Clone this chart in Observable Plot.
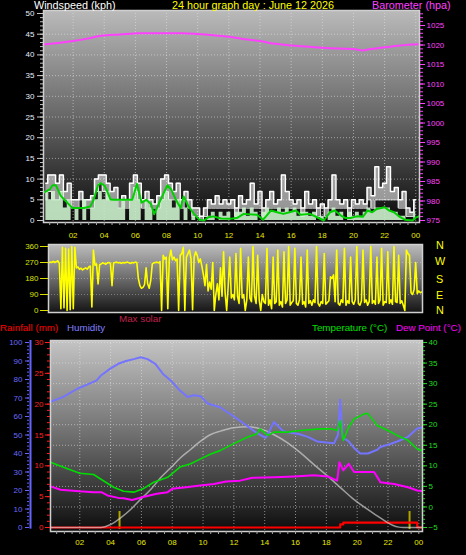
<!DOCTYPE html>
<html><head><meta charset="utf-8">
<script src="https://cdn.jsdelivr.net/npm/d3@7"></script>
<script src="https://cdn.jsdelivr.net/npm/@observablehq/plot@0.6"></script>
<style>
html,body{margin:0;padding:0;background:#000;}
#wrap{position:relative;width:466px;height:555px;overflow:hidden;background:#000;font-family:"Liberation Sans",Arial,sans-serif;}
.lbl{position:absolute;white-space:nowrap;font-size:10.8px;line-height:12px;}
.leg{font-size:9.8px;line-height:11px;}
.panel{position:absolute;left:0;}
</style></head><body>
<div id="wrap">
  <div id="p1" class="panel" style="top:0px"></div>
  <div id="p2" class="panel" style="top:240px"></div>
  <div id="p3" class="panel" style="top:330px"></div>
  <div class="lbl" style="left:34px;top:-1px;color:#ffffff">Windspeed (kph)</div>
  <div class="lbl" style="left:172px;top:-1px;color:#ffff00">24 hour graph day : June 12 2026</div>
  <div class="lbl" style="left:372px;top:-1px;color:#ff40ff">Barometer (hpa)</div>
  <div class="lbl" style="left:436px;top:239px;color:#ffff00">N</div>
  <div class="lbl" style="left:435px;top:255px;color:#ffff00">W</div>
  <div class="lbl" style="left:436px;top:273px;color:#ffff00">S</div>
  <div class="lbl" style="left:436px;top:289px;color:#ffff00">E</div>
  <div class="lbl" style="left:436px;top:304px;color:#ffff00">N</div>
  <div class="lbl leg" style="left:119px;top:313px;color:#c0204c">Max solar</div>
  <div class="lbl leg" style="left:0px;top:322px;color:#ff0000">Rainfall (mm)</div>
  <div class="lbl leg" style="left:67px;top:322px;color:#8080ff">Humidity</div>
  <div class="lbl leg" style="left:312px;top:322px;color:#00e000">Temperature (°C)</div>
  <div class="lbl leg" style="left:396px;top:322px;color:#ff00ff">Dew Point (°C)</div>
</div>
<script>
// ---------- DATA ----------
const hours = [2,4,6,8,10,12,14,16,18,20,22,24];
const hourLabels = ["02","04","06","08","10","12","14","16","18","20","22","00"];

// Barometer (hPa)
const baroT = [0.1,1.2,2,3,3.8,5,6.3,7,8,9,10,11,12,13,14,15,16,17,18,19,20,20.6,21,22,23,24.2];
const baroP = [1020.1,1020.6,1021.0,1021.7,1022.4,1022.7,1023.0,1023.0,1023.0,1023.0,1022.8,1022.5,1022.1,1021.5,1021.0,1020.3,1019.9,1019.6,1019.3,1019.1,1019.0,1018.6,1018.9,1019.4,1019.9,1020.2];
const baroTicks = [975,980,985,990,995,1000,1005,1010,1015,1020,1025];

// Wind (kph), sampled every 15 minutes from 00:15
const windStart = 0.25, windStep = 0.25;
const windGust = [9,11,11,9, 11,7,9,5, 5,7,5,5, 6,10,11,11, 9,7,8,5, 6,5,9,11,
  9,5,7,5, 4,6,10,11, 9,7,9,5, 7,5,3,3, 1,3,5,4, 6,4,5,4,
  5,3,6,4, 5,9,4,7, 3,5,7,4, 5,11,7,5, 4,5,3,7, 4,5,3,4,
  3,5,11,5, 4,5,3,5, 4,5,4,8, 6,13,8,9, 13,7,8,5, 7,3,2,5];
const windGustLow = [5,7,5,5, 7,5,5,3, 3,5,3,3, 3,7,9,7, 5,5,5,3, 3,3,5,7,
  5,3,5,3, 3,3,5,7, 5,5,5,3, 5,3,1,1, 0,1,3,3, 3,3,3,3,
  3,1,3,3, 3,3,3,3, 1,3,3,3, 3,3,3,3, 3,3,1,3, 3,3,1,3,
  1,3,3,3, 3,3,1,3, 3,3,3,5, 3,5,5,5, 5,5,5,3, 3,1,1,3];
const windSpeed = [7,5,7,5, 7,3,5,0, 3,0,5,0, 3,5,7,5, 7,5,5,3, 5,0,5,8,
  5,0,5,3, 0,3,5,7, 5,3,5,0, 3,0,1,0, 0,0,1,2, 0,2,1,2,
  0,2,2,3, 1,3,2,0, 2,3,2,2, 3,2,3,2, 3,1,2,2, 1,2,0,1,
  0,2,3,1, 2,0,2,1, 2,1,2,3, 2,3,3,3, 3,2,2,1, 1,0,0,2];
// Average wind speed
const avgT = [0.14,0.5,0.68,0.9,1.2,1.5,1.96,2.7,3.1,3.3,3.6,3.77,4.0,4.2,4.4,4.6,5.8,6.1,6.4,6.7,7.0,7.2,7.5,8.05,8.3,8.6,8.9,9.1,9.4,9.76,10.1,10.4,10.7,11.0,11.5,12.1,12.5,12.96,13.8,14.2,14.7,15.1,15.5,15.9,16.3,16.6,17.2,17.6,18.1,18.5,18.8,19.2,19.5,19.8,20.2,20.6,20.9,21.2,21.5,22.0,22.3,22.6,23.0,23.3,23.8,24.0,24.2];
const avgV = [6.8,7.5,8.5,8.5,6,4.8,3,3,3.4,4.8,8.5,9,8.5,7,5.1,5,5,8.8,4.3,5,4,1.5,4,8.5,7.5,5,3,5.8,3.5,1.6,0.2,0,0.8,1,0.5,0.4,0.6,1.6,1.4,0.2,2.4,2.0,1.6,2.0,2.4,1.4,1.6,0.9,0,2.0,2.4,1.2,0.6,0.6,1.0,0.9,2.4,2.0,2.8,3.2,2.4,2.0,0.8,0.2,0,0.7,1];
const windTicks = [0,5,10,15,20,25,30,35,40,45,50];

// Wind direction (degrees), every 6 minutes from 00:06
const dirStart = 0.1, dirStep = 0.1;
const windDir = [
 268,272,270,276,270,274,280,265,10,355,
 15,350,0,345,5,360,10,355,240,245,
 232,238,228,235,240,232,245,250,20,340,
 255,262,150,258,262,268,265,260,268,270,
 265,140,268,270,272,268,270,265,270,268,
 270,272,268,265,270,268,272,270,180,140,
 125,130,145,240,150,125,170,262,268,270,
 272,268,275,0,310,290,300,10,295,340,
 285,300,280,290,0,310,320,355,0,300,
 320,340,290,5,300,330,310,270,290,250,
 200,140,260,110,160,120,270,0,90,150,
 60,240,80,330,100,0,140,300,70,90,
 60,320,80,40,350,70,90,0,60,300,
 70,50,360,80,40,310,60,0,90,50,
 40,350,30,60,10,300,40,50,340,30,
 50,20,330,40,60,360,30,45,55,350,
 40,30,60,300,35,50,20,340,40,55,
 30,60,45,360,40,25,50,40,320,35,
 45,55,190,180,200,50,340,40,30,60,
 45,350,30,55,40,300,50,35,60,360,
 40,30,55,340,45,60,30,50,360,40,
 55,35,300,40,60,350,30,50,45,330,
 40,60,35,360,50,45,310,40,55,30,
 0,340,320,310,100,90,120,270,95,110,
 100,105];
const dirTicks = [0,90,180,270,360];

// Humidity (%)
const humT = [0.1,0.9,1.85,2.7,3.1,3.35,4.0,4.5,5.0,5.5,5.95,6.4,6.9,7.4,7.9,8.5,9.0,9.4,9.84,10.3,11.1,12.0,12.6,13.5,14.06,14.3,14.6,15.2,15.5,16.2,16.8,17.4,18.0,18.5,18.75,18.9,19.06,19.4,19.8,20.2,20.7,21.3,21.5,22.1,22.6,23.3,23.9,24.2];
const humV = [68,70.5,75,78,79.5,82,86,88.5,90,91,92,91,88.5,83,79.5,74,70.5,71.5,71,67,65,60,56.5,51,48.5,52,57,52,51.5,50.5,49,46.5,46,45.5,50,69,48.5,47,43,40,40,42,43.5,45,46.5,49,53.5,54];
// Temperature (°C)
const tempT = [0.1,1.2,2.0,2.9,3.35,4.2,4.84,5.5,6.1,6.8,7.7,8.5,9.2,9.84,10.5,11.1,12.0,12.9,13.5,13.7,14.2,14.6,15.5,16.3,17.6,18.3,18.7,18.9,19.1,19.45,19.8,20.5,20.7,21.3,22.0,22.6,23.3,23.9,24.2];
const tempV = [10.9,9.3,8.2,7.9,6.8,4.8,3.8,3.6,4.4,6.0,7.2,9.7,10.5,11.7,12.9,13.7,15.4,17.0,17.8,19.0,17.4,18.2,18.2,18.6,19.0,19.0,18.6,21.0,16.2,19.4,21.4,22.7,22.7,19.8,18.6,17.4,16.2,14.1,13.7];
// Dew point (°C)
const dewT = [0.1,0.75,2.0,2.9,3.4,3.8,4.5,4.84,5.4,6.1,7.0,7.7,8.0,8.9,9.8,10.7,11.5,12.4,13.2,14.6,15.9,17.2,18.1,18.7,18.85,19.1,19.45,19.8,20.5,21.1,21.45,21.5,22.4,23.3,23.9,24.2];
const dewV = [5.0,4.2,3.8,3.6,3.6,2.8,2.2,2.1,1.7,2.4,3.2,3.6,4.4,4.8,5.2,5.6,6.2,6.4,7.1,7.2,7.4,7.7,7.4,6.4,10.9,8.9,10.5,8.5,8.5,8.5,6.4,6.0,5.6,4.8,4.0,3.9];
// Rainfall (mm)
const rainT = [0.1,18.75,18.9,19.1,23.85,23.9,24.2];
const rainV = [0,0,0.5,0.8,0.8,0,0];
// Max solar (W/m2)
const solarMaxT = [0.1,3.35,4.0,4.65,5.3,5.94,6.6,7.24,7.9,8.54,9.19,9.84,10.5,11.14,11.98,12.9,13.74,14.58,15.49,16.33,17.18,18.09,18.93,19.78,20.68,21.33,21.9,22.3,22.7,23.0,24.2];
const solarMaxV = [0,0,16,52,97,151,204,267,321,375,419,464,500,518,536,541,530,500,455,401,339,276,213,151,97,61,30,12,2,0,0];
// Solar (W/m2)
const solarT = [4.58,23.4];
const solarV = [86,86];

const tempTicks = [-5,0,5,10,15,20,25,30,35,40];
const humTicks = [0,10,20,30,40,50,60,70,80,90,100];
const rainTicks = [0,5,10,15,20,25,30];

// ---------- HELPERS ----------
const FONT = "'Liberation Sans', Arial, sans-serif";
const baseStyle = {background: "transparent", fontFamily: FONT, fontSize: "8px", overflow: "visible"};
function gradDefs(id, stops) {
  return () => {
    const defs = d3.create("svg:defs");
    const g = defs.append("linearGradient").attr("id", id)
      .attr("x1", 0).attr("y1", 0).attr("x2", 0).attr("y2", 1);
    stops.forEach(([o, c]) => g.append("stop").attr("offset", o).attr("stop-color", c));
    return defs.node();
  };
}
const fmtHour = d => hourLabels[hours.indexOf(d)];
const halfHours = d3.range(0.5, 24.01, 0.5);
const grid = {stroke: "#e8e8e8", strokeOpacity: 0.55, strokeDasharray: "1,2"};
const seq = (start, step, arr) => arr.map((v, i) => ({t: start + step * i, v}));
const pairs = (ts, vs) => ts.map((t, i) => ({t, v: vs[i]}));

// ---------- TOP PANEL: wind + barometer ----------
const baroToWind = p => (p - 975) * 0.942;
const windData = windGust.map((g, i) => ({t: windStart + windStep * i, gust: g, low: windGustLow[i], speed: windSpeed[i]}));
const topChart = Plot.plot({
  width: 466, height: 245,
  marginLeft: 43, marginRight: 47, marginTop: 10, marginBottom: 23,
  x: {domain: [0.1, 24.24]},
  y: {domain: [0, 50], range: [220, 13]},
  style: baseStyle,
  marks: [
    gradDefs("gTop", [[0, "#bababa"], [0.5, "#676767"], [1, "#0a0a0a"]]),
    Plot.frame({fill: "url(#gTop)"}),
    Plot.gridY(windTicks.slice(1, -1), grid),
    Plot.gridX(hours, grid),
    Plot.areaY(windData, {x: "t", y1: "low", y2: "gust", curve: "step", fill: "#ffffff", fillOpacity: 0.55}),
    Plot.line(windData, {x: "t", y: "gust", curve: "step", stroke: "#ffffff", strokeWidth: 1.5}),
    Plot.line(windData, {x: "t", y: "low", curve: "step", stroke: "#f4f4f4", strokeWidth: 1}),
    Plot.areaY(windData, {x: "t", y: "speed", curve: "step", fill: "#cdf2cd", fillOpacity: 0.9}),
    Plot.line(pairs(avgT, avgV), {x: "t", y: "v", stroke: "#00d000", strokeWidth: 2}),
    Plot.line(pairs(baroT, baroP.map(baroToWind)), {x: "t", y: "v", stroke: "#ff40ff", strokeWidth: 2, curve: "monotone-x"}),
    Plot.frame({stroke: "#d0d0d0", strokeWidth: 1.5}),
    Plot.axisY(windTicks, {anchor: "left", tickSize: 6, tickPadding: 3, stroke: "#c8c8c8", fill: "#e4eeff", fontSize: 8, label: null}),
    Plot.axisY(d3.range(0, 51, 1), {anchor: "left", tickSize: 3, tickFormat: () => "", stroke: "#c8c8c8", label: null}),
    Plot.axisY(baroTicks.map(baroToWind), {anchor: "right", tickSize: 5, tickPadding: 2, stroke: "#ff40ff", fill: "#ff40ff", fontSize: 8, label: null,
      tickFormat: d => String(Math.round(d / 0.942 + 975))}),
    Plot.axisY(d3.range(975, 1029, 1).map(baroToWind), {anchor: "right", tickSize: 3, tickFormat: () => "", stroke: "#ff40ff", label: null}),
    Plot.axisX(hours, {tickSize: 0, tickPadding: 10, tickFormat: fmtHour, fill: "#e8e800", fontSize: 8, label: null}),
    Plot.axisX(halfHours, {tickSize: 3, tickFormat: () => "", stroke: "#a8a8a8", label: null})
  ]
});
document.getElementById("p1").appendChild(topChart);

// ---------- MIDDLE PANEL: wind direction ----------
const midChart = Plot.plot({
  width: 466, height: 78,
  marginLeft: 48, marginRight: 44, marginTop: 4, marginBottom: 6,
  x: {domain: [0.1, 24.24]},
  y: {domain: [0, 360], range: [70, 6]},
  style: baseStyle,
  marks: [
    gradDefs("gMid", [[0, "#bcbcbc"], [0.5, "#6c6c6c"], [1, "#141414"]]),
    Plot.frame({fill: "url(#gMid)"}),
    Plot.gridY([90, 180, 270], {stroke: "#e8e8e8", strokeOpacity: 0.35, strokeDasharray: "1,2"}),
    Plot.line(seq(dirStart, dirStep, windDir), {x: "t", y: "v", stroke: "#ffff00", strokeWidth: 1.6}),
    Plot.frame({stroke: "#d0d0d0", strokeWidth: 1.5}),
    Plot.axisY(dirTicks, {anchor: "left", tickSize: 8, tickPadding: 2, stroke: "#d8e000", fill: "#d8e000", fontSize: 8, label: null})
  ]
});
document.getElementById("p2").appendChild(midChart);

// ---------- BOTTOM PANEL: temperature, humidity, rain, solar ----------
const humToT = h => -5 + h * 0.45;
const rainToT = r => -5 + r * 1.5;
const solarToT = w => -5 + w * 0.04526;
const botChart = Plot.plot({
  width: 466, height: 225,
  marginLeft: 50, marginRight: 44, marginTop: 10, marginBottom: 24,
  x: {domain: [0.1, 24.24]},
  y: {domain: [-5, 40], range: [197, 12]},
  style: baseStyle,
  marks: [
    gradDefs("gBot", [[0, "#c4c4c4"], [0.5, "#6e6e6e"], [1, "#0c0c0c"]]),
    Plot.frame({fill: "url(#gBot)"}),
    Plot.gridY(tempTicks.slice(1), grid),
    Plot.gridX(hours, grid),
    Plot.ruleX(pairs(solarT, solarV), {x: "t", y1: -5.5, y2: d => solarToT(d.v), stroke: "#b0a400", strokeWidth: 2}),
    Plot.line(pairs(rainT, rainV.map(rainToT)), {x: "t", y: "v", stroke: "#ff0000", strokeWidth: 2.2, curve: "step-after"}),
    Plot.line(pairs(solarMaxT, solarMaxV.map(solarToT)), {x: "t", y: "v", stroke: "#d8d8d8", strokeOpacity: 0.65, strokeWidth: 1.5, curve: "monotone-x"}),
    Plot.line(pairs(humT, humV.map(humToT)), {x: "t", y: "v", stroke: "#7474ff", strokeWidth: 2}),
    Plot.line(pairs(dewT, dewV), {x: "t", y: "v", stroke: "#ff00ff", strokeWidth: 2}),
    Plot.line(pairs(tempT, tempV), {x: "t", y: "v", stroke: "#00dd00", strokeWidth: 1.6}),
    Plot.frame({stroke: "#d0d0d0", strokeWidth: 1.5}),
    Plot.ruleX([0.1], {y1: -5.4, y2: 40.5, stroke: "#6464ff", strokeWidth: 2, dx: -20}),
    Plot.axisY(humTicks.map(humToT), {anchor: "left", dx: -21, tickSize: 4, tickPadding: 3, stroke: "#6464ff", fill: "#6a6aff", fontSize: 8, label: null,
      tickFormat: d => String(Math.round((d + 5) / 0.45))}),
    Plot.axisY(d3.range(0, 101, 2).map(humToT), {anchor: "left", dx: -21, tickSize: 2, tickFormat: () => "", stroke: "#6464ff", label: null}),
    Plot.axisY(rainTicks.map(rainToT), {anchor: "left", tickSize: 5, tickPadding: 2, stroke: "#ff2020", fill: "#ff2020", fontSize: 8, label: null,
      tickFormat: d => String(Math.round((d + 5) / 1.5))}),
    Plot.axisY(d3.range(0, 31, 1).map(rainToT), {anchor: "left", tickSize: 3, tickFormat: () => "", stroke: "#ff2020", label: null}),
    Plot.axisY(tempTicks, {anchor: "right", tickSize: 4, tickPadding: 2, stroke: "#20dd20", fill: "#20dd20", fontSize: 8, label: null}),
    Plot.axisY(d3.range(-5, 41, 1), {anchor: "right", tickSize: 2, tickFormat: () => "", stroke: "#20dd20", label: null}),
    Plot.axisX(hours, {tickSize: 0, tickPadding: 8, tickFormat: fmtHour, fill: "#e8e800", fontSize: 8, label: null}),
    Plot.axisX(halfHours, {tickSize: 3, tickFormat: () => "", stroke: "#a8a8a8", label: null})
  ]
});
document.getElementById("p3").appendChild(botChart);
</script>
</body></html>
